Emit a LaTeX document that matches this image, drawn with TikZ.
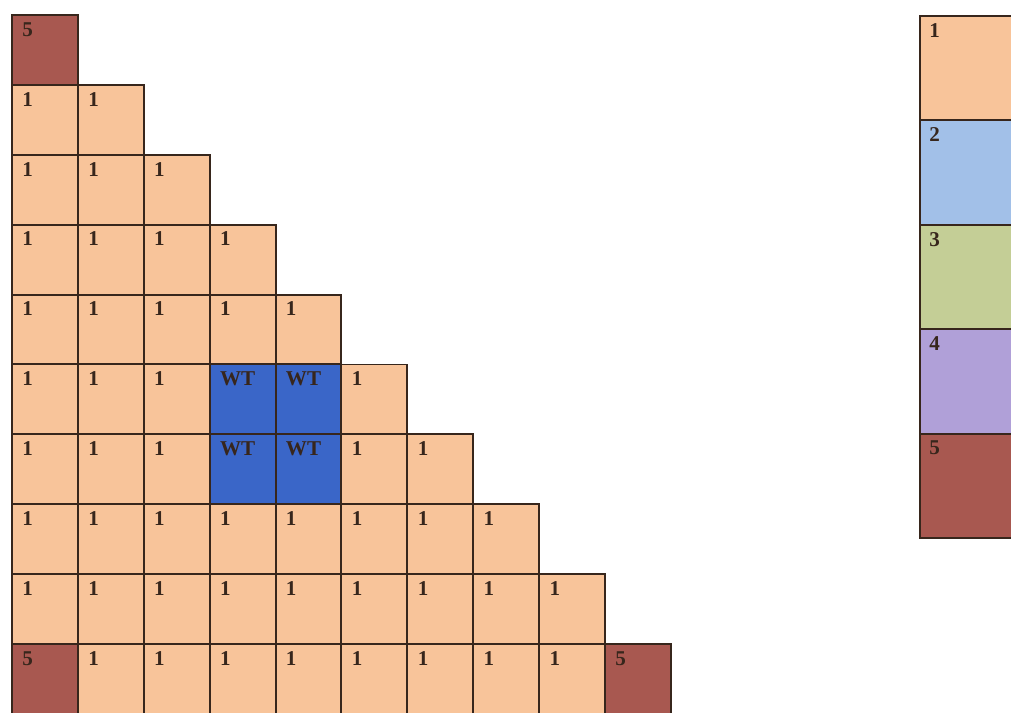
\documentclass[tikz,border=0pt]{standalone}
\usepackage{fontspec}
\setmainfont{Liberation Serif}
\usetikzlibrary{positioning}

\definecolor{peach}{RGB}{248,196,154}
\definecolor{brick}{RGB}{168,88,80}
\definecolor{wtblue}{RGB}{58,102,200}
\definecolor{skyblue}{RGB}{162,192,232}
\definecolor{sage}{RGB}{196,206,150}
\definecolor{lilac}{RGB}{176,160,216}
\definecolor{gridline}{RGB}{55,38,28}

\tikzset{
  cell/.style={draw=gridline, line width=1.1pt, anchor=north west, inner sep=0pt,
    minimum width=1.318cm, minimum height=1.398cm},
  tag/.style={font=\bfseries\fontsize{12}{12}\selectfont, text=gridline, inner sep=0pt},
  c1/.style={fill=peach},
  c5/.style={fill=brick},
  cWT/.style={fill=wtblue},
  legbox/.style={draw=gridline, line width=1.1pt, anchor=north west, inner sep=0pt,
    minimum width=2cm, minimum height=2.088cm}
}

\begin{document}
\begin{tikzpicture}[x=0.02cm, y=-0.02cm]
      \clip (0,0) rectangle (1011,713);

      % Grid cells
      \foreach [count=\r] \row in {{5},{1,1},{1,1,1},{1,1,1,1},{1,1,1,1,1},
          {1,1,1,WT,WT,1},{1,1,1,WT,WT,1,1},{1,1,1,1,1,1,1,1},
          {1,1,1,1,1,1,1,1,1},{5,1,1,1,1,1,1,1,1,5}}{
        \foreach [count=\c] \v in \row {
          \node[cell, c\v] (cell-\r-\c) at ({11+65.9*(\c-1)},{14+69.9*(\r-1)}) {};
          \node[tag, anchor=north west] (tag-\r-\c) at ([xshift=0.22cm, yshift=-0.16cm]cell-\r-\c.north west) {\v};
        }
      }

      % Legend
      \foreach [count=\k] \col in {peach, skyblue, sage, lilac, brick}{
        \node[legbox, fill=\col] (leg-\k) at (919,{15+104.4*(\k-1)}) {};
        \node[tag, anchor=north west] (legtag-\k) at ([xshift=0.2cm, yshift=-0.16cm]leg-\k.north west) {\k};
      }
    \end{tikzpicture}
\end{document}
